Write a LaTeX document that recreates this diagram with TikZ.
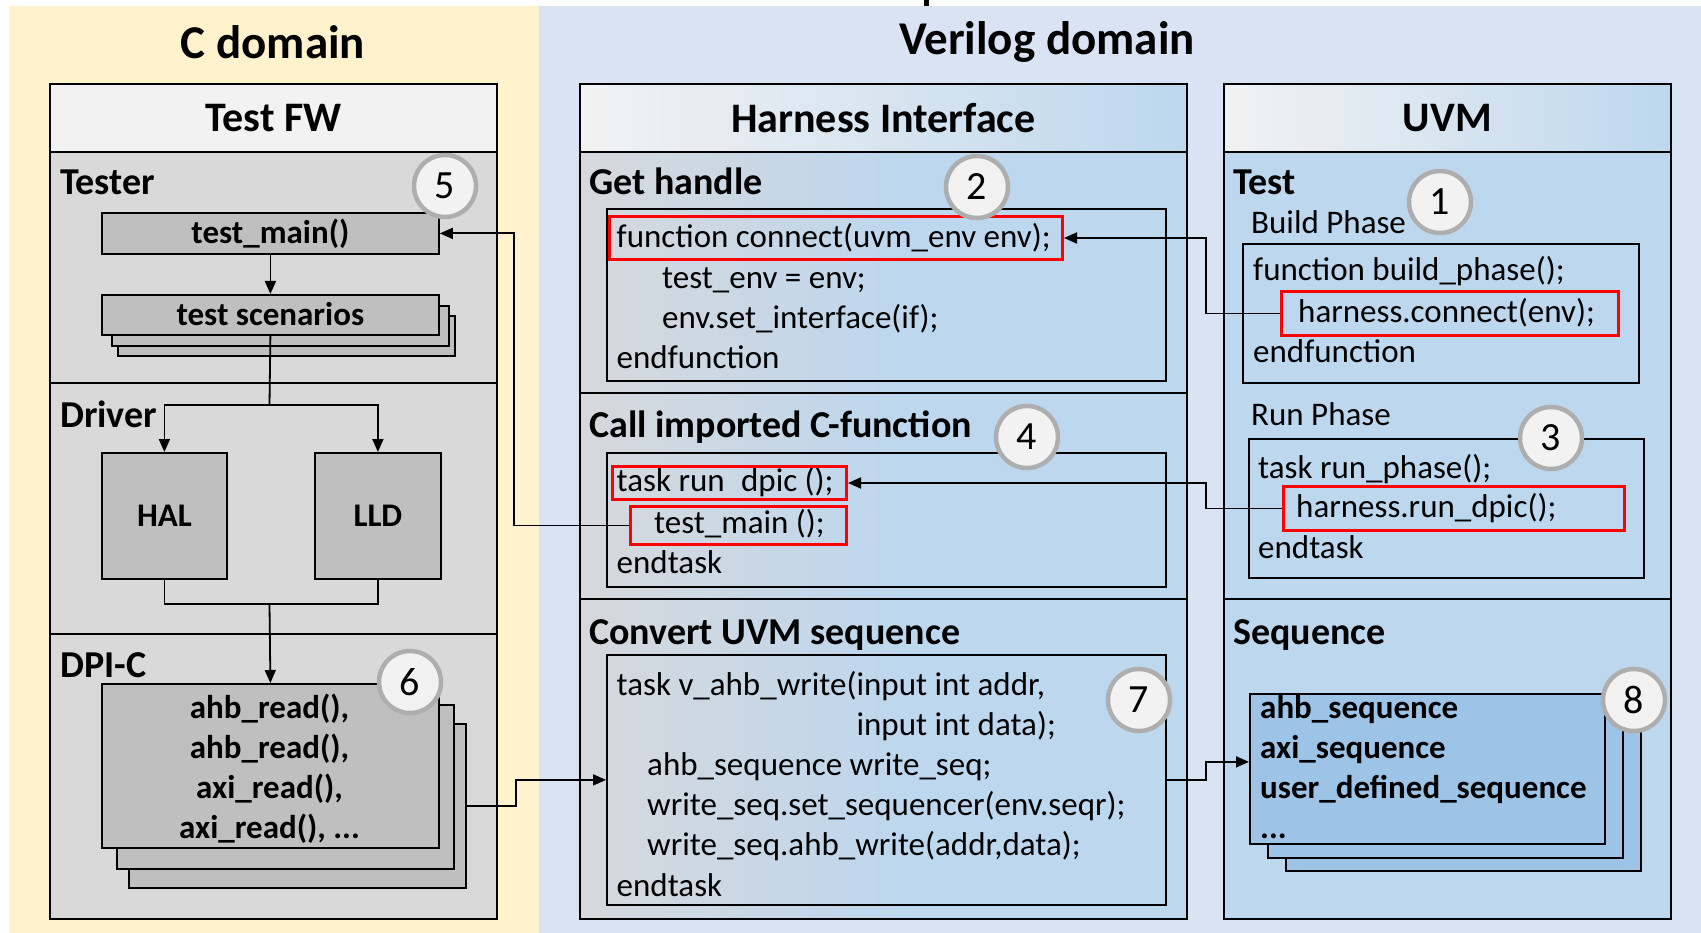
\documentclass[tikz,border=0pt]{standalone}
\usepackage{fontspec}
\setmainfont{Carlito}
\usetikzlibrary{arrows.meta}

\definecolor{cyellow}{HTML}{FFF2CC}
\definecolor{clav}{HTML}{DAE3F3}
\definecolor{fwhead}{HTML}{F2F2F2}
\definecolor{fwbody}{HTML}{D9D9D9}
\definecolor{boxgray}{HTML}{BFBFBF}
\definecolor{hblue}{HTML}{BDD7EE}
\definecolor{hbodygray}{HTML}{D6D8DC}
\definecolor{seqblue}{HTML}{9DC3E6}
\definecolor{cred}{HTML}{FF0000}
\definecolor{ringgray}{HTML}{AEAEAE}
\definecolor{numfill}{HTML}{F2F2F2}

% body of the harness panel: grey on the left, blue from the middle on
\pgfdeclarehorizontalshading{hibody}{100bp}{color(0bp)=(hbodygray); color(25bp)=(hbodygray); color(52bp)=(hblue); color(100bp)=(hblue)}

\newcommand\titlesz{\fontsize{47}{56}\selectfont}
\newcommand\headsz{\fontsize{42}{50}\selectfont}
\newcommand\lblsz{\fontsize{38}{46}\selectfont}
\newcommand\codesz{\fontsize{33}{40}\selectfont}
\newcommand\numsz{\fontsize{40}{48}\selectfont}

\begin{document}
\begin{tikzpicture}[x=1pt,y=-1pt,
  box/.style={draw=black, line width=1.8pt, inner sep=0pt, anchor=north west},
  gbox/.style={box, fill=boxgray, font=\codesz\bfseries, text height=28pt, text depth=7pt},
  sbox/.style={box, fill=seqblue},
  redbox/.style={draw=cred, line width=3pt, inner sep=0pt, anchor=north west},
  code/.style={inner sep=0pt, anchor=west, font=\codesz, text height=28pt, text depth=7pt},
  bcode/.style={code, font=\codesz\bfseries},
  lbl/.style={inner sep=0pt, anchor=west, font=\lblsz\bfseries, text height=32pt, text depth=8pt},
  head/.style={box, font=\headsz\bfseries, minimum height=68pt},
  num/.style={circle, draw=ringgray, line width=4.5pt, fill=numfill, minimum size=62pt, inner sep=0pt, font=\numsz},
  conn/.style={line width=1.8pt},
  arr/.style={conn, -{Triangle[length=13pt,width=11pt]}}]

\useasboundingbox (0,0) rectangle (1701,933);

% domain backgrounds
\fill[white] (0,0) rectangle (1701,933);
\fill[cyellow] (9,6) rectangle (539,933);
\fill[clav] (539,6) rectangle (1701,933);
\fill[black] (924,0) rectangle (929,6);

\node[font=\titlesz\bfseries] (tc) at (273,42) {C domain};
\node[font=\titlesz\bfseries] (tv) at (1047,42) {Verilog domain};

% ---------------- Test FW ----------------
\node[head, fill=fwhead, minimum width=447pt] (fwh) at (49,83) {Test FW};
\node[box, fill=fwbody, minimum width=447pt, minimum height=231pt] (tester) at (49,151) {};
\node[box, fill=fwbody, minimum width=447pt, minimum height=251pt] (driver) at (49,382) {};
\node[box, fill=fwbody, minimum width=447pt, minimum height=285pt] (dpic) at (49,633) {};
\node[lbl] (ltester) at (60,183) {Tester};
\node[lbl] (ldriver) at (60,415) {Driver};
\node[lbl] (ldpic) at (60,665) {DPI-C};

\node[gbox, minimum width=337pt, minimum height=41pt] (tmain) at (101,212) {test\_main()};
\node[gbox, minimum width=337pt, minimum height=40pt] (scenb) at (117,315) {};
\node[gbox, minimum width=337pt, minimum height=40pt] (scena) at (111,305) {};
\node[gbox, minimum width=337pt, minimum height=40pt] (scen) at (101,294) {test scenarios};

\node[gbox, minimum width=125pt, minimum height=126pt] (hal) at (101,452) {HAL};
\node[gbox, minimum width=126pt, minimum height=126pt] (lld) at (314,452) {LLD};

\node[gbox, minimum width=337pt, minimum height=164pt] (dpisb) at (128,723) {};
\node[gbox, minimum width=337pt, minimum height=164pt] (dpisa) at (116,704) {};
\node[gbox, minimum width=337pt, minimum height=164pt] (dpi) at (101,683) {};
\node[bcode, anchor=center] (d1) at (269.5,708) {ahb\_read(),};
\node[bcode, anchor=center] (d2) at (269.5,748) {ahb\_read(),};
\node[bcode, anchor=center] (d3) at (269.5,788) {axi\_read(),};
\node[bcode, anchor=center] (d4) at (269.5,828) {axi\_read(), ...};

% ---------------- Harness Interface ----------------
\node[head, left color=fwhead, right color=hblue, minimum width=607pt] (hih) at (579,83) {Harness Interface};
\node[box, shade, shading=hibody, minimum width=607pt, minimum height=241pt] (hget) at (579,151) {};
\node[box, shade, shading=hibody, minimum width=607pt, minimum height=206pt] (hcall) at (579,392) {};
\node[box, shade, shading=hibody, minimum width=607pt, minimum height=320pt] (hconv) at (579,598) {};
\node[lbl] (lget) at (589,183) {Get handle};
\node[lbl] (lcall) at (589,425) {Call imported C-function};
\node[lbl] (lconv) at (589,632) {Convert UVM sequence};

\node[box, minimum width=559pt, minimum height=172pt] (ghc) at (606,208) {};
\node[code] (g1) at (616.5,237) {function connect(uvm\_env env);};
\node[code] (g2) at (662,278) {test\_env = env;};
\node[code] (g3) at (662,318) {env.set\_interface(if);};
\node[code] (g4) at (616.5,358) {endfunction};
\node[redbox, minimum width=453pt, minimum height=43pt] (redfc) at (608,215) {};

\node[box, minimum width=559pt, minimum height=134pt] (cic) at (606,452) {};
\node[code] (c1) at (616.5,481) {task run\phantom{\_}dpic ();};
\node[code] (c2) at (654,523) {test\_main ();};
\node[code] (c3) at (616.5,563) {endtask};
\node[redbox, minimum width=234pt, minimum height=33pt] (redrd) at (611,465) {};
\node[redbox, minimum width=216pt, minimum height=38pt] (redtm) at (629,505) {};

\node[box, minimum width=559pt, minimum height=250pt] (conv) at (606,654) {};
\node[code] (v1) at (616.5,685) {task v\_ahb\_write(input int addr,};
\node[code] (v2) at (616.5,725) {\phantom{task v\_ahb\_write(}input int data);};
\node[code] (v3) at (647,765) {ahb\_sequence write\_seq;};
\node[code] (v4) at (647,805) {write\_seq.set\_sequencer(env.seqr);};
\node[code] (v5) at (647,845) {write\_seq.ahb\_write(addr,data);};
\node[code] (v6) at (616.5,886) {endtask};

% ---------------- UVM ----------------
\node[head, left color=fwhead, right color=hblue, minimum width=447pt] (uvh) at (1223,83) {UVM};
\node[box, fill=hblue, minimum width=447pt, minimum height=447pt] (utest) at (1223,151) {};
\node[box, fill=hblue, minimum width=447pt, minimum height=320pt] (useq) at (1223,598) {};
\node[lbl] (ltest) at (1233,183) {Test};
\node[lbl] (lseq) at (1233,632) {Sequence};
\node[code] (lbuild) at (1251,223) {Build Phase};
\node[code] (lrun) at (1251,415) {Run Phase};

\node[box, minimum width=396pt, minimum height=139pt] (bpc) at (1242,243) {};
\node[code] (b1) at (1253,270) {function build\_phase();};
\node[code] (b2) at (1298,312) {harness.connect(env);};
\node[code] (b3) at (1253,352) {endfunction};
\node[redbox, minimum width=337pt, minimum height=44pt] (redhc) at (1280,290) {};

\node[box, minimum width=395pt, minimum height=139pt] (rpc) at (1248,438) {};
\node[code] (r1) at (1258,468) {task run\_phase();};
\node[code] (r2) at (1296,507) {harness.run\_dpic();};
\node[code] (r3) at (1258,548) {endtask};
\node[redbox, minimum width=341pt, minimum height=44pt] (redhr) at (1282,485) {};

\node[sbox, minimum width=355pt, minimum height=150pt] (seqb) at (1285,720) {};
\node[sbox, minimum width=355pt, minimum height=150pt] (seqa) at (1267,707) {};
\node[sbox, minimum width=355pt, minimum height=150pt] (seq) at (1249,693) {};
\node[bcode] (s1) at (1260,708) {ahb\_sequence};
\node[bcode] (s2) at (1260,748) {axi\_sequence};
\node[bcode] (s3) at (1260,788) {user\_defined\_sequence};
\node[bcode] (s4) at (1260,828) {...};

% ---------------- connectors ----------------
\draw[arr] (tmain.south) -- (scen.north);
\coordinate (br) at (269.5,405);
\draw[conn] (scen.south) -- (br);
\draw[arr] (br) -| (hal.north);
\draw[arr] (br) -| (lld.north);
\coordinate (jn) at (269.5,604);
\draw[conn] (hal.south) |- (jn) -| (lld.south);
\draw[arr] (jn) -- (dpi.north);

\draw[arr] (redtm.west) -- ++(-115,0) |- (tmain.east);
\draw[arr] (dpisb.east) -- ++(49,0) |- (conv.west);
\draw[arr] (redhc.west) -- ++(-74,0) |- (redfc.east);
\draw[arr] (redhr.west) -- ++(-76,0) |- (redrd.east);
\draw[arr] (conv.east) -- ++(39,0) |- ([yshift=7pt]seq.west);

% ---------------- step numbers ----------------
\node[num] (n1) at (1440,202) {1};
\node[num] (n2) at (977,187) {2};
\node[num] (n3) at (1551,438) {3};
\node[num] (n4) at (1027,437) {4};
\node[num] (n5) at (445,186) {5};
\node[num] (n6) at (410,682) {6};
\node[num] (n7) at (1139,700) {7};
\node[num] (n8) at (1634,700) {8};
\end{tikzpicture}
\end{document}
